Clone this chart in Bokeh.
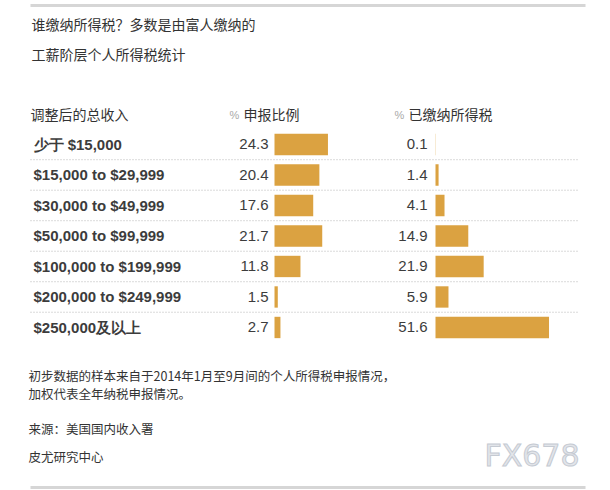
from bokeh.plotting import figure
from bokeh.models import Range1d, ColumnDataSource
from bokeh.core.properties import value
from bokeh.embed import file_html
from bokeh.resources import INLINE

# ---- data ----
income_labels = ["少于 $15,000", "$15,000 to $29,999", "$30,000 to $49,999",
                 "$50,000 to $99,999", "$100,000 to $199,999",
                 "$200,000 to $249,999", "$250,000及以上"]
pct_filed = [24.3, 20.4, 17.6, 21.7, 11.8, 1.5, 2.7]
pct_paid = [0.1, 1.4, 4.1, 14.9, 21.9, 5.9, 51.6]

title1 = "谁缴纳所得税？多数是由富人缴纳的"
title2 = "工薪阶层个人所得税统计"
col_head0 = "调整后的总收入"
col_head1 = "申报比例"
col_head2 = "已缴纳所得税"
note1 = "初步数据的样本来自于2014年1月至9月间的个人所得税申报情况，"
note2 = "加权代表全年纳税申报情况。"
source = "来源：美国国内收入署"
org = "皮尤研究中心"
watermark = "FX678"

W, H = 610, 490
FONT = "Liberation Sans"
CJK = "Noto Sans CJK SC"
BAR = "#DBA241"

n = len(income_labels)
rows = list(range(n))

p = figure(width=W, height=H, output_backend="svg", toolbar_location=None,
           x_range=Range1d(0, W), y_range=Range1d(11.345, -4.72),
           min_border=0, min_border_left=0, min_border_right=0,
           min_border_top=0, min_border_bottom=0)
p.axis.visible = False
p.grid.visible = False
p.outline_line_color = None
p.background_fill_color = "white"
p.border_fill_color = "white"

# pixel-like range for layout text, and data ranges for the two bar columns
p.extra_y_ranges = {"px": Range1d(H, 0)}
scale = 2.2
p.extra_x_ranges = {
    "filed": Range1d(-274 / scale, (W - 274) / scale),
    "paid": Range1d(-435 / scale, (W - 435) / scale),
}

src = ColumnDataSource(dict(row=rows, label=income_labels,
                            filed=pct_filed, paid=pct_paid,
                            filed_txt=[f"{v:.1f}" for v in pct_filed],
                            paid_txt=[f"{v:.1f}" for v in pct_paid]))

# top and bottom rules
p.segment(x0=[30, 30], x1=[585, 585], y0=[5, 487], y1=[5, 487],
          y_range_name="px", line_color="#d6d6d6", line_width=3)

# dotted separators between rows
seps = [r + 0.5 for r in rows[:-1]]
p.segment(x0=[30] * len(seps), x1=[578] * len(seps), y0=seps, y1=seps,
          line_color="#b5b5b5", line_width=1, line_dash="1 2")

# bars
p.hbar(y="row", left=0, right="filed", height=0.7, source=src,
       x_range_name="filed", fill_color=BAR, line_color=None)
p.hbar(y="row", left=0, right="paid", height=0.7, source=src,
       x_range_name="paid", fill_color=BAR, line_color=None)

# row labels and values
p.text(x=33, y="row", text="label", source=src, text_font=value(FONT),
       text_font_size="15px", text_font_style="bold", text_color="#3c3c3c",
       text_baseline="middle", text_align="left")
p.text(x=268, y="row", text="filed_txt", source=src, text_font=value(FONT),
       text_font_size="15px", text_color="#3c3c3c",
       text_baseline="middle", text_align="right")
p.text(x=427, y="row", text="paid_txt", source=src, text_font=value(FONT),
       text_font_size="15px", text_color="#3c3c3c",
       text_baseline="middle", text_align="right")

# titles and headers
def txt(x, y, s, size, color="#333333", font=CJK, align="left", style="normal"):
    p.text(x=[x], y=[y], text=[s], y_range_name="px", text_font=value(font),
           text_font_size=size, text_color=color, text_align=align,
           text_baseline="middle", text_font_style=style)

txt(31, 23, title1, "14px")
txt(31, 53, title2, "14px")
txt(30, 113, col_head0, "14px")
txt(229, 114, "%", "11px", color="#aaaaaa", font=FONT)
txt(243, 113, col_head1, "14px")
txt(394, 114, "%", "11px", color="#aaaaaa", font=FONT)
txt(408, 113, col_head2, "14px")
txt(28, 375, note1, "12.5px")
txt(28, 393, note2, "12.5px")
txt(28, 428, source, "12.5px")
txt(28, 456, org, "12.5px")
p.text(x=[579], y=[455], text=[watermark], y_range_name="px",
       text_font=value("DejaVu Sans"), text_font_size="30px",
       text_color="#e2e5ea", text_align="right", text_baseline="middle",
       text_outline_color="#c5cad2")

open("out.html", "w").write(file_html(p, INLINE))
